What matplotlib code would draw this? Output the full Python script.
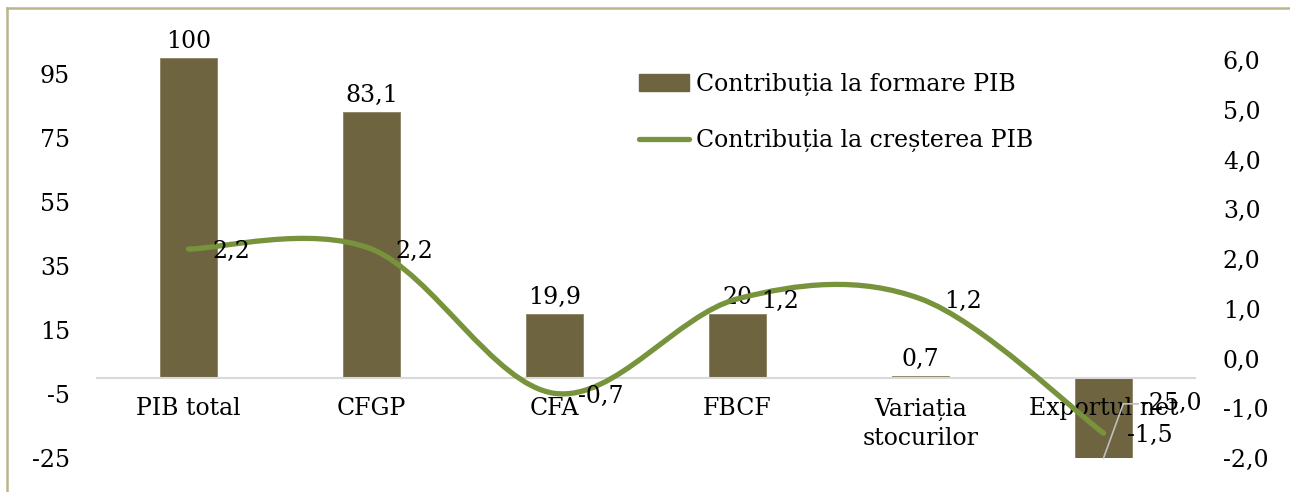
import matplotlib
matplotlib.use("Agg")
import matplotlib.pyplot as plt
from matplotlib.path import Path
from matplotlib.patches import PathPatch, Patch
from matplotlib.lines import Line2D

# DATA
categories = ["PIB total", "CFGP", "CFA", "FBCF", "Variația\nstocurilor", "Exportul net"]
formare = [100, 83.1, 19.9, 20, 0.7, -25.0]
formare_labels = ["100", "83,1", "19,9", "20", "0,7", "-25,0"]
crestere = [2.2, 2.2, -0.7, 1.2, 1.2, -1.5]
crestere_labels = ["2,2", "2,2", "-0,7", "1,2", "1,2", "-1,5"]
left_ticks = [-25, -5, 15, 35, 55, 75, 95]
right_ticks = [-2, -1, 0, 1, 2, 3, 4, 5, 6]

bar_color = "#6E6540"
line_color = "#77933C"
plt.rcParams["font.family"] = ["DejaVu Serif"]
fs = 17

fig = plt.figure(figsize=(12.9, 4.92), dpi=100)
ax = fig.add_axes([0.0752, 0.0691, 0.8512, 0.8130])
ax2 = ax.twinx()

x = list(range(len(categories)))
ax.bar(x, formare, width=0.31, color=bar_color, edgecolor="#8A8262", linewidth=0.6, zorder=2)
ax.set_axisbelow(False)
for s in ["top", "left", "right"]:
    ax.spines[s].set_visible(False)
ax.spines["bottom"].set_position(("data", 0))
ax.spines["bottom"].set_color("#D9D9D9")
ax.spines["bottom"].set_linewidth(1.5)
for s in ax2.spines.values():
    s.set_visible(False)

ax.set_xlim(-0.5, len(categories) - 0.5)
ax.set_ylim(-25, 100)
ax.set_yticks(left_ticks)
ax.set_yticklabels([str(t) for t in left_ticks])
ax.set_xticks(x)
ax.set_xticklabels(categories, linespacing=1.35)
ax.tick_params(axis="both", length=0, labelsize=fs)
ax.tick_params(axis="x", pad=14)
ax.tick_params(axis="y", pad=19.5)

# bar value labels
for xi, v, lab in zip(x, formare, formare_labels):
    if v >= 0:
        ax.annotate(lab, (xi, v), xytext=(0, 12), textcoords="offset points",
                    ha="center", va="center", fontsize=fs, zorder=5)
    else:
        ax.annotate(lab, (xi, v), xytext=(27, 39), textcoords="offset points",
                    ha="left", va="center", fontsize=fs, zorder=5,
                    arrowprops=dict(arrowstyle="-", color="#BFBFBF", lw=1.2,
                                    shrinkA=0, shrinkB=0, relpos=(0, 0.5),
                                    connectionstyle="angle,angleA=180,angleB=70,rad=0"))

# smoothed line (Catmull-Rom style bezier, like Excel smoothing)
pts = list(zip(x, crestere))
verts = [pts[0]]
codes = [Path.MOVETO]
n = len(pts)
for i in range(n - 1):
    p0 = pts[max(i - 1, 0)]
    p1 = pts[i]
    p2 = pts[i + 1]
    p3 = pts[min(i + 2, n - 1)]
    c1 = (p1[0] + (p2[0] - p0[0]) / 6, p1[1] + (p2[1] - p0[1]) / 6)
    c2 = (p2[0] - (p3[0] - p1[0]) / 6, p2[1] - (p3[1] - p1[1]) / 6)
    verts += [c1, c2, p2]
    codes += [Path.CURVE4] * 3
ax2.add_patch(PathPatch(Path(verts, codes), facecolor="none", edgecolor=line_color,
                        lw=3.8, capstyle="round", joinstyle="round", zorder=3))
ax2.set_ylim(-2, 6.04)
ax2.set_yticks(right_ticks)
ax2.set_yticklabels([f"{t:.1f}".replace(".", ",") for t in right_ticks])
ax2.tick_params(axis="y", length=0, pad=20, labelsize=fs)

for xi, v, lab in zip(x, crestere, crestere_labels):
    ax2.annotate(lab, (xi, v), xytext=(17, -2), textcoords="offset points",
                 ha="left", va="center", fontsize=fs, zorder=5)

handles = [Patch(facecolor=bar_color, edgecolor=bar_color),
           Line2D([], [], color=line_color, lw=3.8, solid_capstyle="round")]
fig.legend(handles, ["Contribuția la formare PIB", "Contribuția la creșterea PIB"],
           loc="upper left", bbox_to_anchor=(0.479, 0.895), frameon=False,
           fontsize=fs, handlelength=2.1, handletextpad=0.3, labelspacing=1.4)

# outer chart border
border = "#BCB58C"
fig.add_artist(Line2D([0.0054, 1.0], [0.983, 0.983], color=border, lw=1.8))
fig.add_artist(Line2D([0.0054, 0.0054], [0.0, 0.983], color=border, lw=1.8))

fig.savefig("out.png", dpi=100)
